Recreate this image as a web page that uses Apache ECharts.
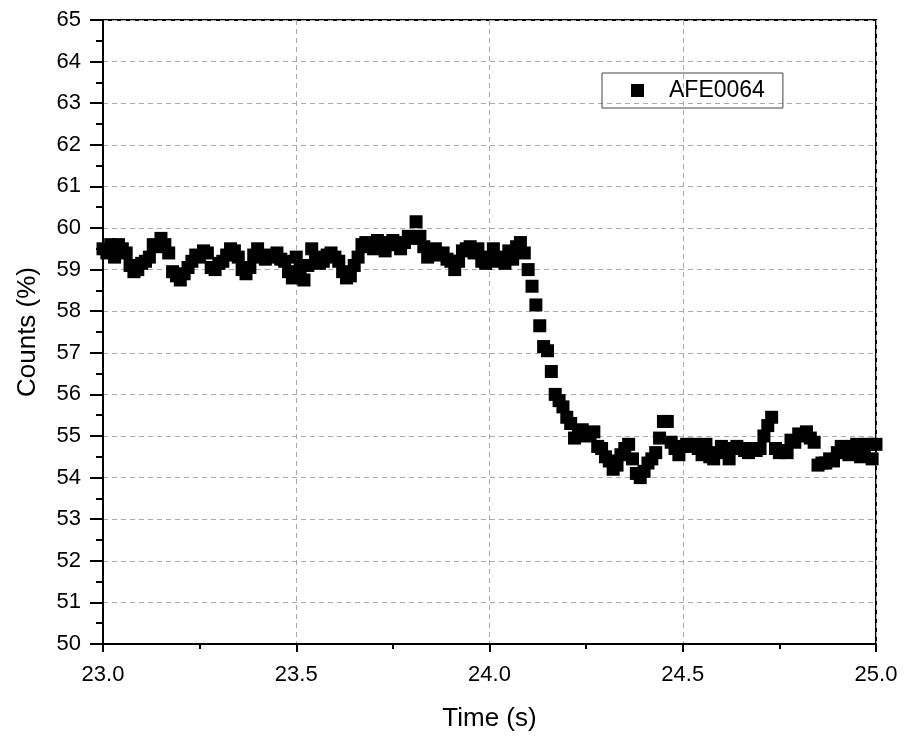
<!DOCTYPE html>
<html>
<head>
<meta charset="utf-8">
<script src="https://cdn.jsdelivr.net/npm/echarts@6/dist/echarts.min.js"></script>
<style>
  html, body { margin: 0; padding: 0; background: #fff; }
  #chart { width: 905px; height: 742px; }
</style>
</head>
<body>
<div id="chart"></div>
<script>
// Sample times (s)
const times = [
  23.00, 23.01, 23.02, 23.03, 23.04, 23.05, 23.06, 23.07, 23.08, 23.09,
  23.10, 23.11, 23.12, 23.13, 23.14, 23.15, 23.16, 23.17, 23.18, 23.19,
  23.20, 23.21, 23.22, 23.23, 23.24, 23.25, 23.26, 23.27, 23.28, 23.29,
  23.30, 23.31, 23.32, 23.33, 23.34, 23.35, 23.36, 23.37, 23.38, 23.39,
  23.40, 23.41, 23.42, 23.43, 23.44, 23.45, 23.46, 23.47, 23.48, 23.49,
  23.50, 23.51, 23.52, 23.53, 23.54, 23.55, 23.56, 23.57, 23.58, 23.59,
  23.60, 23.61, 23.62, 23.63, 23.64, 23.65, 23.66, 23.67, 23.68, 23.69,
  23.70, 23.71, 23.72, 23.73, 23.74, 23.75, 23.76, 23.77, 23.78, 23.79,
  23.80, 23.81, 23.82, 23.83, 23.84, 23.85, 23.86, 23.87, 23.88, 23.89,
  23.90, 23.91, 23.92, 23.93, 23.94, 23.95, 23.96, 23.97, 23.98, 23.99,
  24.00, 24.01, 24.02, 24.03, 24.04, 24.05, 24.06, 24.07, 24.08, 24.09,
  24.10, 24.11, 24.12, 24.13, 24.14, 24.15, 24.16, 24.17, 24.18, 24.19,
  24.20, 24.21, 24.22, 24.23, 24.24, 24.25, 24.26, 24.27, 24.28, 24.29,
  24.30, 24.31, 24.32, 24.33, 24.34, 24.35, 24.36, 24.37, 24.38, 24.39,
  24.40, 24.41, 24.42, 24.43, 24.44, 24.45, 24.46, 24.47, 24.48, 24.49,
  24.50, 24.51, 24.52, 24.53, 24.54, 24.55, 24.56, 24.57, 24.58, 24.59,
  24.60, 24.61, 24.62, 24.63, 24.64, 24.65, 24.66, 24.67, 24.68, 24.69,
  24.70, 24.71, 24.72, 24.73, 24.74, 24.75, 24.76, 24.77, 24.78, 24.79,
  24.80, 24.81, 24.82, 24.83, 24.84, 24.85, 24.86, 24.87, 24.88, 24.89,
  24.90, 24.91, 24.92, 24.93, 24.94, 24.95, 24.96, 24.97, 24.98, 24.99,
  25.00
];

// AFE0064 counts (%)
const counts = [
  59.50, 59.40, 59.60, 59.30, 59.60, 59.50, 59.40, 59.10, 58.95, 59.00,
  59.15, 59.20, 59.30, 59.60, 59.55, 59.75, 59.60, 59.40, 58.95, 58.85,
  58.75, 58.90, 59.05, 59.20, 59.35, 59.30, 59.45, 59.40, 59.05, 59.00,
  59.15, 59.20, 59.35, 59.50, 59.45, 59.30, 59.00, 58.90, 59.05, 59.35,
  59.50, 59.30, 59.25, 59.35, 59.30, 59.40, 59.25, 59.20, 58.95, 58.80,
  59.30, 59.00, 58.75, 59.10, 59.50, 59.30, 59.15, 59.20, 59.35, 59.40,
  59.30, 59.20, 58.95, 58.80, 58.85, 59.10, 59.30, 59.60, 59.65, 59.55,
  59.50, 59.70, 59.65, 59.45, 59.60, 59.70, 59.60, 59.50, 59.65, 59.80,
  59.75, 60.15, 59.80, 59.55, 59.30, 59.40, 59.50, 59.35, 59.40, 59.25,
  59.20, 59.00, 59.20, 59.45, 59.50, 59.55, 59.40, 59.50, 59.20, 59.15,
  59.30, 59.50, 59.20, 59.30, 59.15, 59.45, 59.25, 59.55, 59.65, 59.40,
  59.00, 58.60, 58.15, 57.65, 57.15, 57.05, 56.55, 56.00, 55.85, 55.70,
  55.45, 55.30, 54.95, 55.10, 55.15, 55.00, 55.05, 55.10, 54.75, 54.70,
  54.50, 54.40, 54.20, 54.30, 54.55, 54.70, 54.80, 54.45, 54.10, 54.00,
  54.15, 54.35, 54.45, 54.60, 54.95, 55.35, 55.35, 54.85, 54.70, 54.55,
  54.75, 54.80, 54.75, 54.80, 54.70, 54.55, 54.80, 54.50, 54.45, 54.60,
  54.75, 54.65, 54.45, 54.70, 54.75, 54.70, 54.65, 54.60, 54.70, 54.65,
  54.70, 55.00, 55.25, 55.45, 54.70, 54.60, 54.65, 54.60, 54.90, 54.85,
  55.05, 55.00, 55.10, 54.95, 54.85, 54.30, 54.35, 54.35, 54.45, 54.40,
  54.60, 54.75, 54.65, 54.55, 54.75, 54.80, 54.50, 54.75, 54.80, 54.45,
  54.80
];

const seriesName = 'AFE0064';
const xTitle = 'Time (s)';
const yTitle = 'Counts (%)';

const points = times.map((t, i) => [t, counts[i]]);

const font = 'Liberation Sans, Arial, sans-serif';
const chart = echarts.init(document.getElementById('chart'), null, { renderer: 'canvas' });

chart.setOption({
  animation: false,
  backgroundColor: '#ffffff',
  grid: {
    left: 103, right: 29, top: 20, bottom: 98,
    show: true, borderColor: '#000', borderWidth: 2, backgroundColor: 'transparent'
  },
  legend: {
    data: [seriesName],
    left: 602, top: 73,
    orient: 'horizontal',
    icon: 'rect',
    itemWidth: 13, itemHeight: 13,
    padding: [6, 18, 6, 29],
    borderColor: '#444', borderWidth: 1,
    itemStyle: { opacity: 1 },
    textStyle: { fontFamily: font, fontSize: 23, color: '#000', padding: [0, 0, 0, 20] }
  },
  xAxis: {
    type: 'value',
    min: 23, max: 25, interval: 0.5,
    name: xTitle, nameLocation: 'middle', nameGap: 62,
    nameTextStyle: { fontFamily: font, fontSize: 26, color: '#000' },
    axisLine: { show: true, lineStyle: { color: '#000', width: 2 } },
    axisTick: { show: true, inside: false, length: 8, lineStyle: { color: '#000', width: 2 } },
    minorTick: { show: true, splitNumber: 2, length: 5, lineStyle: { color: '#000', width: 2 } },
    axisLabel: {
      fontFamily: font, fontSize: 22, color: '#000', margin: 20,
      formatter: v => v.toFixed(1)
    },
    splitLine: { show: true, lineStyle: { color: '#aaa', type: [5, 4], width: 1 } }
  },
  yAxis: {
    type: 'value',
    min: 50, max: 65, interval: 1,
    name: yTitle, nameLocation: 'middle', nameGap: 62, nameRotate: 90,
    nameTextStyle: { fontFamily: font, fontSize: 26, color: '#000' },
    axisLine: { show: true, lineStyle: { color: '#000', width: 2 } },
    axisTick: { show: true, inside: false, length: 13, lineStyle: { color: '#000', width: 2 } },
    minorTick: { show: true, splitNumber: 2, length: 7, lineStyle: { color: '#000', width: 2 } },
    axisLabel: { fontFamily: font, fontSize: 22, color: '#000', margin: 22 },
    splitLine: { show: true, lineStyle: { color: '#aaa', type: [5, 4], width: 1 } }
  },
  series: [{
    name: seriesName,
    type: 'scatter',
    symbol: 'rect',
    symbolSize: 13,
    clip: true,
    itemStyle: { color: '#000', opacity: 1 },
    data: points
  }]
});
</script>
</body>
</html>
